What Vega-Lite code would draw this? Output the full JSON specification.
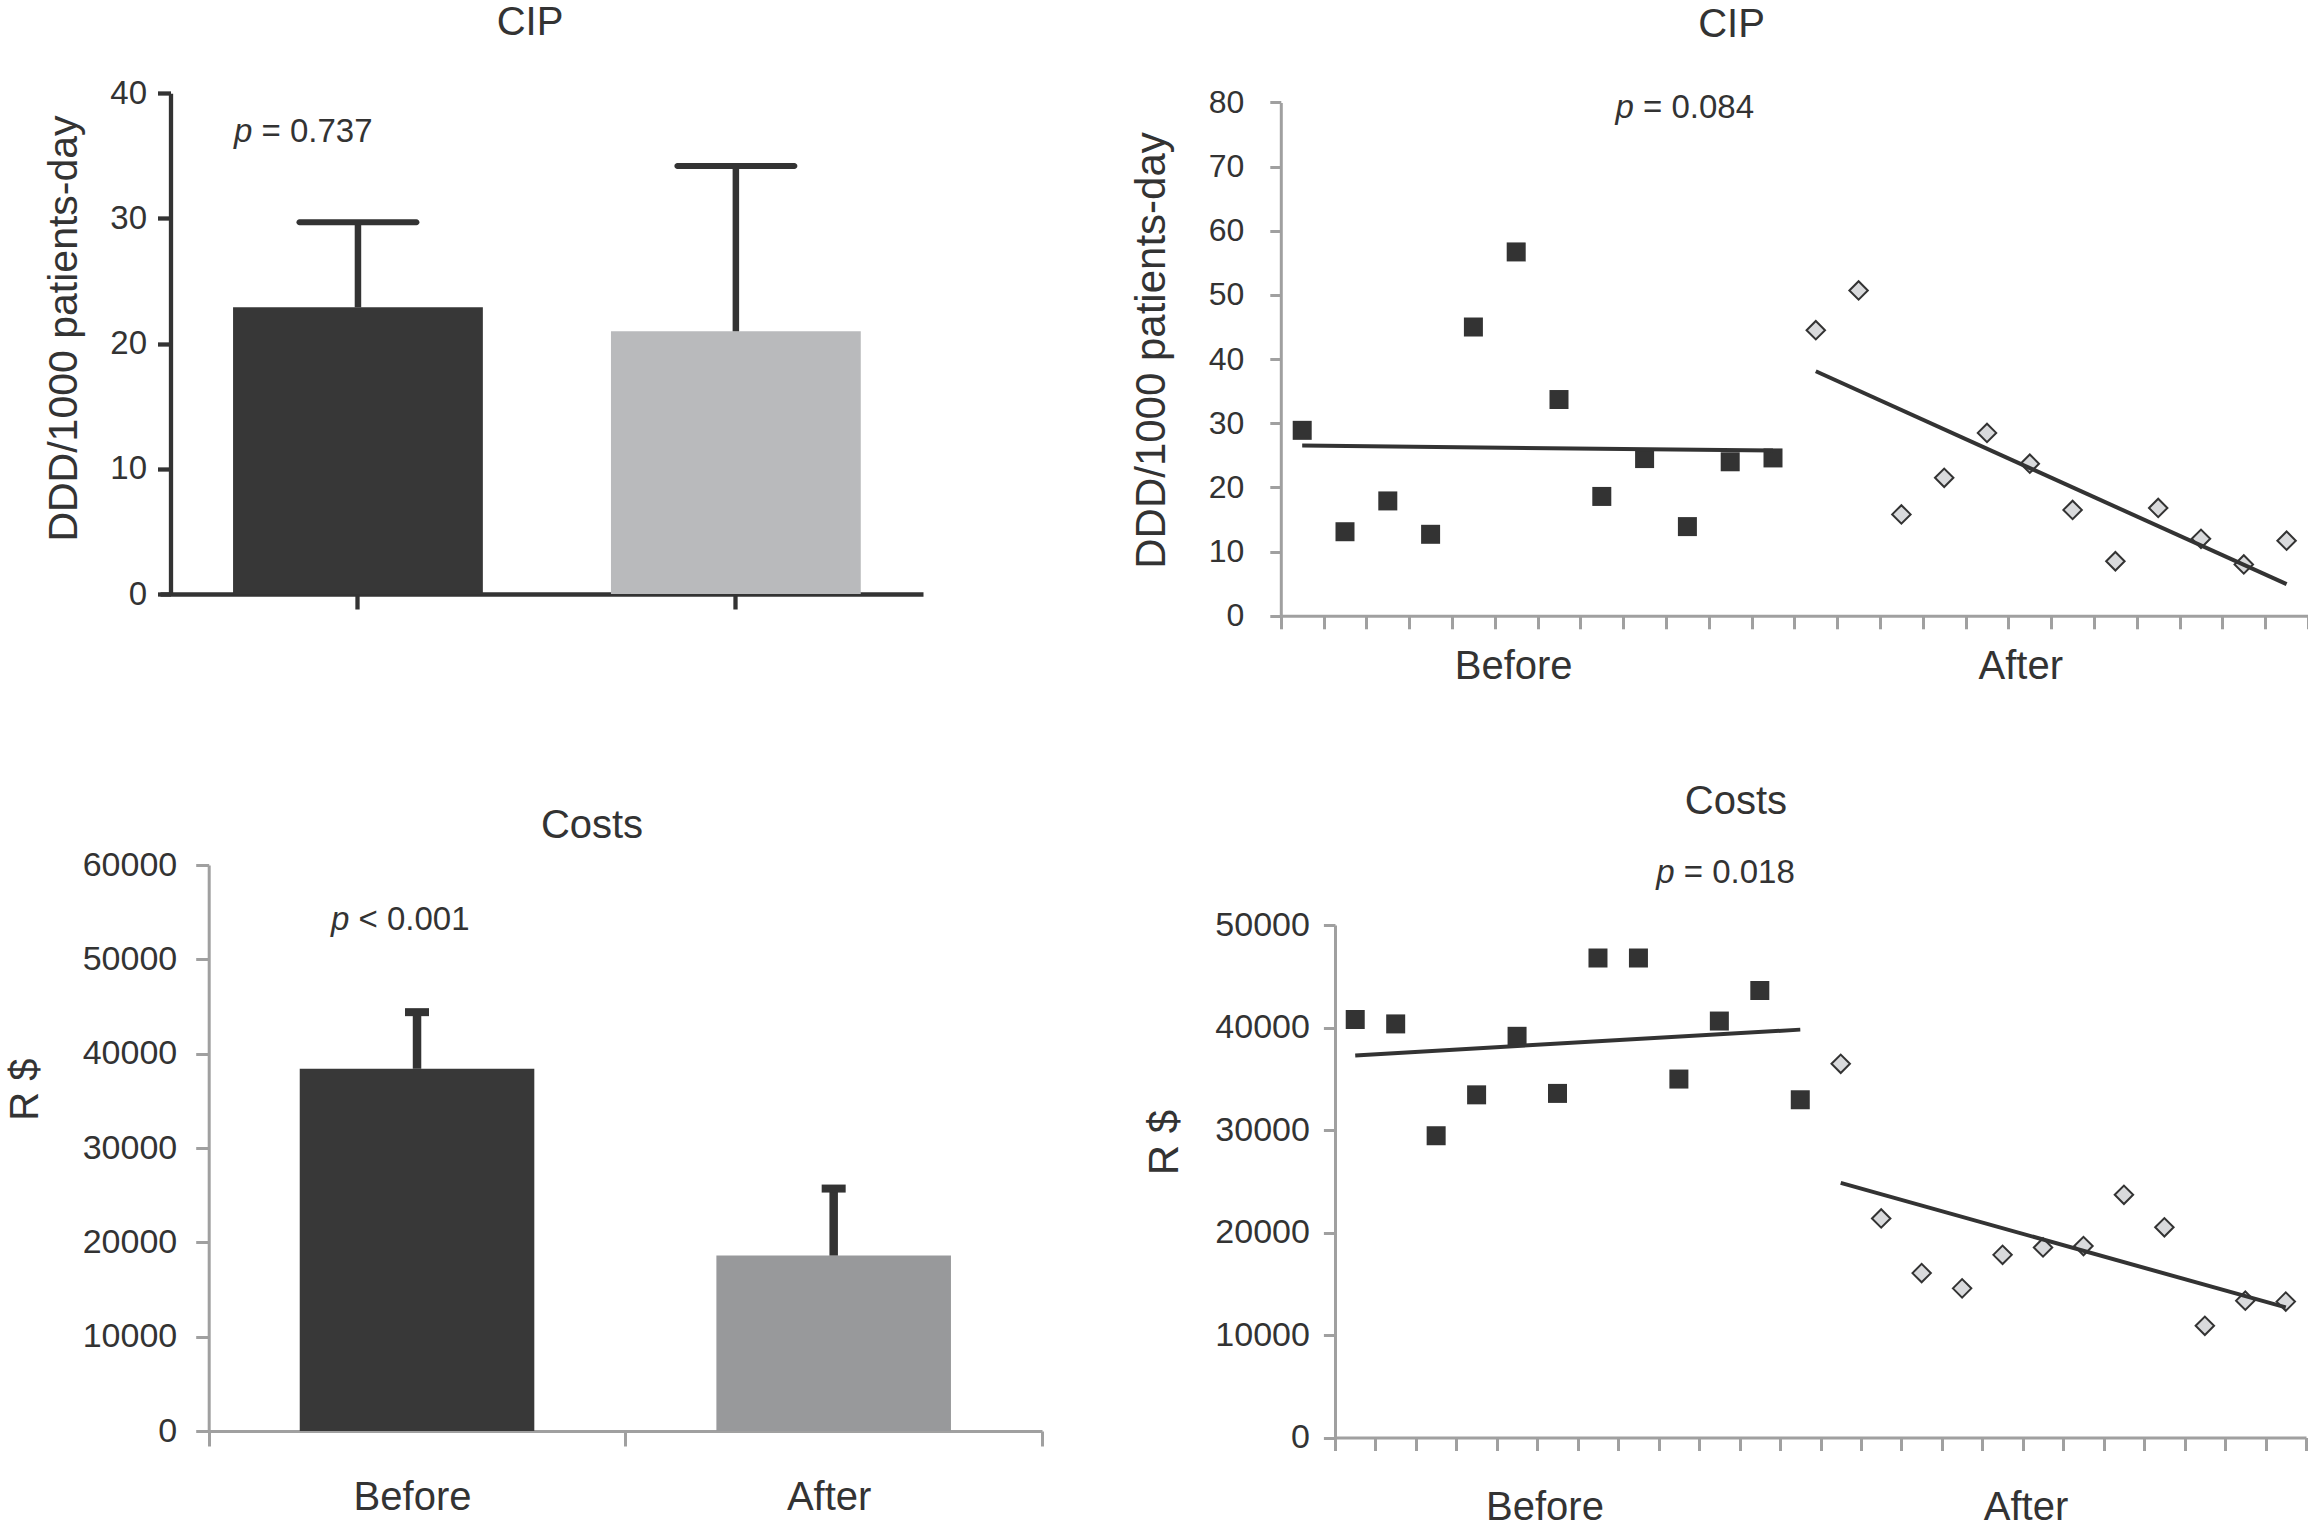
{
  "$schema": "https://vega.github.io/schema/vega-lite/v6.json",
  "width": 2308,
  "height": 1532,
  "autosize": {"type": "none"},
  "padding": 0,
  "background": "white",
  "config": {
    "view": {"stroke": null},
    "font": "Liberation Sans",
    "text": {"color": "#333", "font": "Liberation Sans"},
    "axis": {
      "grid": false,
      "labelFont": "Liberation Sans",
      "titleFont": "Liberation Sans",
      "labelColor": "#333",
      "titleColor": "#333",
      "titleFontWeight": "normal"
    }
  },
  "datasets": {
    "cip_bar": [
      {"period": "Before", "value": 22.9, "upper": 29.7},
      {"period": "After", "value": 21.0, "upper": 34.2}
    ],
    "cost_bar": [
      {"period": "Before", "value": 38400, "upper": 44400},
      {"period": "After", "value": 18600, "upper": 25700}
    ],
    "cip_month": [
      {"period": "Before", "month": 1, "value": 28.9},
      {"period": "Before", "month": 2, "value": 13.1},
      {"period": "Before", "month": 3, "value": 17.9},
      {"period": "Before", "month": 4, "value": 12.7},
      {"period": "Before", "month": 5, "value": 45.0},
      {"period": "Before", "month": 6, "value": 56.7},
      {"period": "Before", "month": 7, "value": 33.7},
      {"period": "Before", "month": 8, "value": 18.6},
      {"period": "Before", "month": 9, "value": 24.5},
      {"period": "Before", "month": 10, "value": 13.9},
      {"period": "Before", "month": 11, "value": 24.0},
      {"period": "Before", "month": 12, "value": 24.6},
      {"period": "After", "month": 13, "value": 44.5},
      {"period": "After", "month": 14, "value": 50.7},
      {"period": "After", "month": 15, "value": 15.8},
      {"period": "After", "month": 16, "value": 21.5},
      {"period": "After", "month": 17, "value": 28.5},
      {"period": "After", "month": 18, "value": 23.7},
      {"period": "After", "month": 19, "value": 16.5},
      {"period": "After", "month": 20, "value": 8.5},
      {"period": "After", "month": 21, "value": 16.8},
      {"period": "After", "month": 22, "value": 12.0},
      {"period": "After", "month": 23, "value": 8.0},
      {"period": "After", "month": 24, "value": 11.7}
    ],
    "cost_month": [
      {"period": "Before", "month": 1, "value": 40780},
      {"period": "Before", "month": 2, "value": 40350},
      {"period": "Before", "month": 3, "value": 29440},
      {"period": "Before", "month": 4, "value": 33430},
      {"period": "Before", "month": 5, "value": 39140},
      {"period": "Before", "month": 6, "value": 33570},
      {"period": "Before", "month": 7, "value": 46780},
      {"period": "Before", "month": 8, "value": 46780},
      {"period": "Before", "month": 9, "value": 34970},
      {"period": "Before", "month": 10, "value": 40630},
      {"period": "Before", "month": 11, "value": 43610},
      {"period": "Before", "month": 12, "value": 32950},
      {"period": "After", "month": 13, "value": 36460},
      {"period": "After", "month": 14, "value": 21370},
      {"period": "After", "month": 15, "value": 16040},
      {"period": "After", "month": 16, "value": 14550},
      {"period": "After", "month": 17, "value": 17820},
      {"period": "After", "month": 18, "value": 18540},
      {"period": "After", "month": 19, "value": 18680},
      {"period": "After", "month": 20, "value": 23680},
      {"period": "After", "month": 21, "value": 20510},
      {"period": "After", "month": 22, "value": 10900},
      {"period": "After", "month": 23, "value": 13350},
      {"period": "After", "month": 24, "value": 13260}
    ]
  },
  "layer": [
    {
      "data": {"name": "cip_bar"},
      "mark": {"type": "bar"},
      "encoding": {
        "x": {
          "field": "period", "type": "nominal",
          "scale": {"domain": ["Before", "After"], "range": [160, 923], "paddingInner": 0.339, "paddingOuter": 0.179, "align": 0.54},
          "axis": {"orient": "bottom", "offset": -938, "labels": false, "title": null,
            "domainColor": "#333", "domainWidth": 4.3, "tickColor": "#333", "tickWidth": 4.3, "tickSize": 15}
        },
        "y": {
          "field": "value", "type": "quantitative",
          "scale": {"domain": [0, 40], "range": [594, 93.3], "nice": false, "zero": false},
          "axis": {"orient": "left", "offset": -170.5, "values": [0, 10, 20, 30, 40],
            "domainColor": "#333", "domainWidth": 4.3, "tickColor": "#333", "tickWidth": 4.3, "tickSize": 13,
            "labelFontSize": 33, "labelPadding": 11,
            "title": "DDD/1000 patients-day", "titleFontSize": 41, "titleX": -106, "titleY": 328,
            "titleAngle": 270, "titleAlign": "center", "titleBaseline": "middle"}
        },
        "color": {"condition": {"test": "datum.period === 'Before'", "value": "#373737"}, "value": "#b9babc"}
      }
    },
    {
      "data": {"name": "cip_bar"},
      "mark": {"type": "rule", "color": "#333", "strokeWidth": 6.5},
      "encoding": {
        "x": {"field": "period", "type": "nominal", "axis": null,
          "scale": {"domain": ["Before", "After"], "range": [160, 923], "paddingInner": 0.339, "paddingOuter": 0.179, "align": 0.54}},
        "y": {"field": "upper", "type": "quantitative", "axis": null,
          "scale": {"domain": [0, 40], "range": [594, 93.3], "nice": false, "zero": false}},
        "y2": {"field": "value"}
      }
    },
    {
      "data": {"name": "cip_bar"},
      "mark": {"type": "tick", "color": "#333", "size": 123, "thickness": 6, "cornerRadius": 3, "opacity": 1},
      "encoding": {
        "x": {"field": "period", "type": "nominal", "axis": null,
          "scale": {"domain": ["Before", "After"], "range": [160, 923], "paddingInner": 0.339, "paddingOuter": 0.179, "align": 0.54}},
        "y": {"field": "upper", "type": "quantitative", "axis": null,
          "scale": {"domain": [0, 40], "range": [594, 93.3], "nice": false, "zero": false}}
      }
    },
    {
      "data": {"values": [{}]},
      "mark": {"type": "text", "text": "CIP", "fontSize": 40, "align": "center", "baseline": "middle"},
      "encoding": {
        "x": {"datum": 530, "type": "quantitative", "axis": null, "scale": {"domain": [0, 2308], "range": [0, 2308]}},
        "y": {"datum": 45.6, "type": "quantitative", "axis": null, "scale": {"domain": [0, 40], "range": [594, 93.3], "nice": false, "zero": false}}
      }
    },
    {
      "data": {"values": [{}]},
      "mark": {"type": "text", "text": "p", "fontStyle": "italic", "fontSize": 33, "align": "left", "baseline": "middle"},
      "encoding": {
        "x": {"datum": 234, "type": "quantitative", "axis": null, "scale": {"domain": [0, 2308], "range": [0, 2308]}},
        "y": {"datum": 36.9, "type": "quantitative", "axis": null, "scale": {"domain": [0, 40], "range": [594, 93.3], "nice": false, "zero": false}}
      }
    },
    {
      "data": {"values": [{}]},
      "mark": {"type": "text", "text": "= 0.737", "fontSize": 33, "align": "left", "baseline": "middle", "dx": 27.5},
      "encoding": {
        "x": {"datum": 234, "type": "quantitative", "axis": null, "scale": {"domain": [0, 2308], "range": [0, 2308]}},
        "y": {"datum": 36.9, "type": "quantitative", "axis": null, "scale": {"domain": [0, 40], "range": [594, 93.3], "nice": false, "zero": false}}
      }
    },
    {
      "data": {"name": "cip_month"},
      "transform": [{"filter": "datum.period === 'Before'"}],
      "mark": {"type": "point", "shape": "square", "filled": true, "color": "#333", "size": 361, "opacity": 1},
      "encoding": {
        "x": {
          "field": "month", "type": "quantitative",
          "scale": {"domain": [0.5, 24.5], "range": [1280.8, 2308], "nice": false, "zero": false},
          "axis": {"orient": "bottom", "offset": -916.2,
            "values": [0.5, 1.5, 2.5, 3.5, 4.5, 5.5, 6.5, 7.5, 8.5, 9.5, 10.5, 11.5, 12.5, 13.5, 14.5, 15.5, 16.5, 17.5, 18.5, 19.5, 20.5, 21.5, 22.5, 23.5, 24.5],
            "labels": false, "title": null,
            "domainColor": "#a0a0a0", "domainWidth": 3, "tickColor": "#a0a0a0", "tickWidth": 3, "tickSize": 13}
        },
        "y": {
          "field": "value", "type": "quantitative",
          "scale": {"domain": [0, 80], "range": [615.8, 102.4], "nice": false, "zero": false},
          "axis": {"orient": "left", "offset": -1280.8, "values": [0, 10, 20, 30, 40, 50, 60, 70, 80],
            "domainColor": "#a0a0a0", "domainWidth": 3, "tickColor": "#a0a0a0", "tickWidth": 3, "tickSize": 11,
            "labelFontSize": 32, "labelPadding": 26,
            "title": "DDD/1000 patients-day", "titleFontSize": 42, "titleX": -129.8, "titleY": 350,
            "titleAngle": 270, "titleAlign": "center", "titleBaseline": "middle"}
        }
      }
    },
    {
      "data": {"name": "cip_month"},
      "transform": [{"filter": "datum.period === 'After'"}],
      "mark": {"type": "point", "shape": "diamond", "filled": true, "fill": "#d9dadc", "stroke": "#333", "strokeWidth": 2, "size": 340, "opacity": 1},
      "encoding": {
        "x": {"field": "month", "type": "quantitative", "axis": null,
          "scale": {"domain": [0.5, 24.5], "range": [1280.8, 2308], "nice": false, "zero": false}},
        "y": {"field": "value", "type": "quantitative", "axis": null,
          "scale": {"domain": [0, 80], "range": [615.8, 102.4], "nice": false, "zero": false}}
      }
    },
    {
      "data": {"name": "cip_month"},
      "transform": [{"regression": "value", "on": "month", "groupby": ["period"]}],
      "mark": {"type": "line", "color": "#333", "strokeWidth": 4},
      "encoding": {
        "x": {"field": "month", "type": "quantitative", "axis": null,
          "scale": {"domain": [0.5, 24.5], "range": [1280.8, 2308], "nice": false, "zero": false}},
        "y": {"field": "value", "type": "quantitative", "axis": null,
          "scale": {"domain": [0, 80], "range": [615.8, 102.4], "nice": false, "zero": false}},
        "detail": {"field": "period", "type": "nominal"}
      }
    },
    {
      "data": {"values": [{}]},
      "mark": {"type": "text", "text": "CIP", "fontSize": 40, "align": "center", "baseline": "middle"},
      "encoding": {
        "x": {"datum": 11.03, "type": "quantitative", "axis": null, "scale": {"domain": [0.5, 24.5], "range": [1280.8, 2308], "nice": false, "zero": false}},
        "y": {"datum": 92.1, "type": "quantitative", "axis": null, "scale": {"domain": [0, 80], "range": [615.8, 102.4], "nice": false, "zero": false}}
      }
    },
    {
      "data": {"values": [{}]},
      "mark": {"type": "text", "text": "p", "fontStyle": "italic", "fontSize": 33, "align": "left", "baseline": "middle"},
      "encoding": {
        "x": {"datum": 8.32, "type": "quantitative", "axis": null, "scale": {"domain": [0.5, 24.5], "range": [1280.8, 2308], "nice": false, "zero": false}},
        "y": {"datum": 79.16, "type": "quantitative", "axis": null, "scale": {"domain": [0, 80], "range": [615.8, 102.4], "nice": false, "zero": false}}
      }
    },
    {
      "data": {"values": [{}]},
      "mark": {"type": "text", "text": "= 0.084", "fontSize": 33, "align": "left", "baseline": "middle", "dx": 27.5},
      "encoding": {
        "x": {"datum": 8.32, "type": "quantitative", "axis": null, "scale": {"domain": [0.5, 24.5], "range": [1280.8, 2308], "nice": false, "zero": false}},
        "y": {"datum": 79.16, "type": "quantitative", "axis": null, "scale": {"domain": [0, 80], "range": [615.8, 102.4], "nice": false, "zero": false}}
      }
    },
    {
      "data": {"values": [{}]},
      "mark": {"type": "text", "text": "Before", "fontSize": 40, "align": "center", "baseline": "middle"},
      "encoding": {
        "x": {"datum": 5.94, "type": "quantitative", "axis": null, "scale": {"domain": [0.5, 24.5], "range": [1280.8, 2308], "nice": false, "zero": false}},
        "y": {"datum": -7.98, "type": "quantitative", "axis": null, "scale": {"domain": [0, 80], "range": [615.8, 102.4], "nice": false, "zero": false}}
      }
    },
    {
      "data": {"values": [{}]},
      "mark": {"type": "text", "text": "After", "fontSize": 40, "align": "center", "baseline": "middle"},
      "encoding": {
        "x": {"datum": 17.79, "type": "quantitative", "axis": null, "scale": {"domain": [0.5, 24.5], "range": [1280.8, 2308], "nice": false, "zero": false}},
        "y": {"datum": -7.98, "type": "quantitative", "axis": null, "scale": {"domain": [0, 80], "range": [615.8, 102.4], "nice": false, "zero": false}}
      }
    },
    {
      "data": {"name": "cost_bar"},
      "mark": {"type": "bar", "width": {"band": 0.563}},
      "encoding": {
        "x": {
          "field": "period", "type": "nominal",
          "scale": {"domain": ["Before", "After"], "range": [208.7, 1042], "paddingInner": 0, "paddingOuter": 0},
          "axis": {"orient": "bottom", "offset": -101, "title": null, "tickBand": "extent",
            "domainColor": "#a0a0a0", "domainWidth": 3, "tickColor": "#a0a0a0", "tickWidth": 3, "tickSize": 15,
            "labelAngle": 0, "labelFontSize": 40, "labelPadding": 51, "labelBaseline": "middle", "labelOffset": -5}
        },
        "y": {
          "field": "value", "type": "quantitative",
          "scale": {"domain": [0, 60000], "range": [1431, 865], "nice": false, "zero": false},
          "axis": {"orient": "left", "offset": -208.7, "values": [0, 10000, 20000, 30000, 40000, 50000, 60000], "format": "d",
            "domainColor": "#a0a0a0", "domainWidth": 3, "tickColor": "#a0a0a0", "tickWidth": 3, "tickSize": 13,
            "labelFontSize": 34, "labelPadding": 19,
            "title": "R $", "titleFontSize": 40, "titleX": -183, "titleY": 1089,
            "titleAngle": 270, "titleAlign": "center", "titleBaseline": "middle"}
        },
        "color": {"condition": {"test": "datum.period === 'Before'", "value": "#383838"}, "value": "#98999b"}
      }
    },
    {
      "data": {"name": "cost_bar"},
      "mark": {"type": "rule", "color": "#333", "strokeWidth": 8.5},
      "encoding": {
        "x": {"field": "period", "type": "nominal", "axis": null,
          "scale": {"domain": ["Before", "After"], "range": [208.7, 1042], "paddingInner": 0, "paddingOuter": 0}},
        "y": {"field": "upper", "type": "quantitative", "axis": null,
          "scale": {"domain": [0, 60000], "range": [1431, 865], "nice": false, "zero": false}},
        "y2": {"field": "value"}
      }
    },
    {
      "data": {"name": "cost_bar"},
      "mark": {"type": "tick", "color": "#333", "size": 24, "thickness": 8, "opacity": 1},
      "encoding": {
        "x": {"field": "period", "type": "nominal", "axis": null,
          "scale": {"domain": ["Before", "After"], "range": [208.7, 1042], "paddingInner": 0, "paddingOuter": 0}},
        "y": {"field": "upper", "type": "quantitative", "axis": null,
          "scale": {"domain": [0, 60000], "range": [1431, 865], "nice": false, "zero": false}}
      }
    },
    {
      "data": {"values": [{}]},
      "mark": {"type": "text", "text": "Costs", "fontSize": 40, "align": "center", "baseline": "middle"},
      "encoding": {
        "x": {"datum": 592, "type": "quantitative", "axis": null, "scale": {"domain": [0, 2308], "range": [0, 2308]}},
        "y": {"datum": 64134, "type": "quantitative", "axis": null, "scale": {"domain": [0, 60000], "range": [1431, 865], "nice": false, "zero": false}}
      }
    },
    {
      "data": {"values": [{}]},
      "mark": {"type": "text", "text": "p", "fontStyle": "italic", "fontSize": 33, "align": "left", "baseline": "middle"},
      "encoding": {
        "x": {"datum": 331, "type": "quantitative", "axis": null, "scale": {"domain": [0, 2308], "range": [0, 2308]}},
        "y": {"datum": 54190, "type": "quantitative", "axis": null, "scale": {"domain": [0, 60000], "range": [1431, 865], "nice": false, "zero": false}}
      }
    },
    {
      "data": {"values": [{}]},
      "mark": {"type": "text", "text": "< 0.001", "fontSize": 33, "align": "left", "baseline": "middle", "dx": 27.5},
      "encoding": {
        "x": {"datum": 331, "type": "quantitative", "axis": null, "scale": {"domain": [0, 2308], "range": [0, 2308]}},
        "y": {"datum": 54190, "type": "quantitative", "axis": null, "scale": {"domain": [0, 60000], "range": [1431, 865], "nice": false, "zero": false}}
      }
    },
    {
      "data": {"name": "cost_month"},
      "transform": [{"filter": "datum.period === 'Before'"}],
      "mark": {"type": "point", "shape": "square", "filled": true, "color": "#333", "size": 361, "opacity": 1},
      "encoding": {
        "x": {
          "field": "month", "type": "quantitative",
          "scale": {"domain": [0.5, 24.5], "range": [1335, 2306], "nice": false, "zero": false},
          "axis": {"orient": "bottom", "offset": -94.5,
            "values": [0.5, 1.5, 2.5, 3.5, 4.5, 5.5, 6.5, 7.5, 8.5, 9.5, 10.5, 11.5, 12.5, 13.5, 14.5, 15.5, 16.5, 17.5, 18.5, 19.5, 20.5, 21.5, 22.5, 23.5, 24.5],
            "labels": false, "title": null,
            "domainColor": "#a0a0a0", "domainWidth": 3, "tickColor": "#a0a0a0", "tickWidth": 3, "tickSize": 13}
        },
        "y": {
          "field": "value", "type": "quantitative",
          "scale": {"domain": [0, 50000], "range": [1437.5, 925], "nice": false, "zero": false},
          "axis": {"orient": "left", "offset": -1335, "values": [0, 10000, 20000, 30000, 40000, 50000], "format": "d",
            "domainColor": "#a0a0a0", "domainWidth": 3, "tickColor": "#a0a0a0", "tickWidth": 3, "tickSize": 11.6,
            "labelFontSize": 34, "labelPadding": 14,
            "title": "R $", "titleFontSize": 42, "titleX": -171, "titleY": 1142,
            "titleAngle": 270, "titleAlign": "center", "titleBaseline": "middle"}
        }
      }
    },
    {
      "data": {"name": "cost_month"},
      "transform": [{"filter": "datum.period === 'After'"}],
      "mark": {"type": "point", "shape": "diamond", "filled": true, "fill": "#d9dadc", "stroke": "#333", "strokeWidth": 2, "size": 340, "opacity": 1},
      "encoding": {
        "x": {"field": "month", "type": "quantitative", "axis": null,
          "scale": {"domain": [0.5, 24.5], "range": [1335, 2306], "nice": false, "zero": false}},
        "y": {"field": "value", "type": "quantitative", "axis": null,
          "scale": {"domain": [0, 50000], "range": [1437.5, 925], "nice": false, "zero": false}}
      }
    },
    {
      "data": {"name": "cost_month"},
      "transform": [{"regression": "value", "on": "month", "groupby": ["period"]}],
      "mark": {"type": "line", "color": "#333", "strokeWidth": 4},
      "encoding": {
        "x": {"field": "month", "type": "quantitative", "axis": null,
          "scale": {"domain": [0.5, 24.5], "range": [1335, 2306], "nice": false, "zero": false}},
        "y": {"field": "value", "type": "quantitative", "axis": null,
          "scale": {"domain": [0, 50000], "range": [1437.5, 925], "nice": false, "zero": false}},
        "detail": {"field": "period", "type": "nominal"}
      }
    },
    {
      "data": {"values": [{}]},
      "mark": {"type": "text", "text": "Costs", "fontSize": 40, "align": "center", "baseline": "middle"},
      "encoding": {
        "x": {"datum": 10.41, "type": "quantitative", "axis": null, "scale": {"domain": [0.5, 24.5], "range": [1335, 2306], "nice": false, "zero": false}},
        "y": {"datum": 62000, "type": "quantitative", "axis": null, "scale": {"domain": [0, 50000], "range": [1437.5, 925], "nice": false, "zero": false}}
      }
    },
    {
      "data": {"values": [{}]},
      "mark": {"type": "text", "text": "p", "fontStyle": "italic", "fontSize": 33, "align": "left", "baseline": "middle"},
      "encoding": {
        "x": {"datum": 8.44, "type": "quantitative", "axis": null, "scale": {"domain": [0.5, 24.5], "range": [1335, 2306], "nice": false, "zero": false}},
        "y": {"datum": 55073, "type": "quantitative", "axis": null, "scale": {"domain": [0, 50000], "range": [1437.5, 925], "nice": false, "zero": false}}
      }
    },
    {
      "data": {"values": [{}]},
      "mark": {"type": "text", "text": "= 0.018", "fontSize": 33, "align": "left", "baseline": "middle", "dx": 27.5},
      "encoding": {
        "x": {"datum": 8.44, "type": "quantitative", "axis": null, "scale": {"domain": [0.5, 24.5], "range": [1335, 2306], "nice": false, "zero": false}},
        "y": {"datum": 55073, "type": "quantitative", "axis": null, "scale": {"domain": [0, 50000], "range": [1437.5, 925], "nice": false, "zero": false}}
      }
    },
    {
      "data": {"values": [{}]},
      "mark": {"type": "text", "text": "Before", "fontSize": 40, "align": "center", "baseline": "middle"},
      "encoding": {
        "x": {"datum": 5.69, "type": "quantitative", "axis": null, "scale": {"domain": [0.5, 24.5], "range": [1335, 2306], "nice": false, "zero": false}},
        "y": {"datum": -6878, "type": "quantitative", "axis": null, "scale": {"domain": [0, 50000], "range": [1437.5, 925], "nice": false, "zero": false}}
      }
    },
    {
      "data": {"values": [{}]},
      "mark": {"type": "text", "text": "After", "fontSize": 40, "align": "center", "baseline": "middle"},
      "encoding": {
        "x": {"datum": 17.58, "type": "quantitative", "axis": null, "scale": {"domain": [0.5, 24.5], "range": [1335, 2306], "nice": false, "zero": false}},
        "y": {"datum": -6878, "type": "quantitative", "axis": null, "scale": {"domain": [0, 50000], "range": [1437.5, 925], "nice": false, "zero": false}}
      }
    }
  ],
  "resolve": {
    "scale": {"x": "independent", "y": "independent"},
    "axis": {"x": "independent", "y": "independent"}
  }
}
